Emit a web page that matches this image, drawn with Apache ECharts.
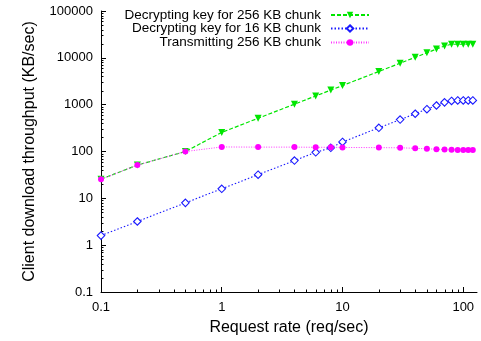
<!DOCTYPE html>
<html>
<head>
<meta charset="utf-8">
<script src="https://cdn.jsdelivr.net/npm/echarts@6/dist/echarts.min.js"></script>
<style>html,body{margin:0;padding:0;background:#fff}#c{width:481px;height:341px}</style>
</head>
<body>
<div id="c"></div>
<script>
// ---- data ----
var rates = [0.1, 0.2, 0.5, 1, 2, 4, 6, 8, 10, 20, 30, 40, 50, 60, 70, 80, 90, 100, 110, 120];
var decrypt256 = [25.6, 51.2, 100, 256, 512, 1024, 1536, 2048, 2560, 5120, 7680, 10240, 12800, 15360, 17920, 19500, 19500, 19500, 19500, 19500];
var decrypt16 = [1.6, 3.2, 8, 16, 32, 64, 96, 120, 160, 320, 480, 640, 800, 960, 1120, 1200, 1230, 1230, 1230, 1230];
var transmit256 = [25.6, 51.2, 100, 125, 124, 124, 123, 123, 122, 121, 120, 117, 114, 112, 110, 109, 108, 107, 107, 107];
var seriesNames = ['Decrypting key for 256 KB chunk', 'Decrypting key for 16 KB chunk', 'Transmitting 256 KB chunk'];
var xTickDecades = [0.1, 1, 10, 100];
var yTickDecades = [0.1, 1, 10, 100, 1000, 10000, 100000];

function pairs(xs, ys) { return xs.map(function (x, i) { return [x, ys[i]]; }); }

var FONT = 'Liberation Sans, Arial, Helvetica, sans-serif';
var chart = echarts.init(document.getElementById('c'), null, {renderer: 'canvas'});

function fmt(v) { return String(+(+v).toPrecision(6)); }

var legendCommon = {
  orient: 'horizontal', align: 'right', right: 111, padding: 0,
  itemWidth: 38, itemHeight: 8,
  textStyle: {fontFamily: FONT, fontSize: 13.5, color: '#000', padding: [0, 5, 0, 0]},
  selectedMode: false
};

var option = {
  animation: false,
  backgroundColor: '#fff',
  grid: {left: 101, right: 4, top: 11, bottom: 46},
  legend: [
    Object.assign({}, legendCommon, {data: [seriesNames[0]], top: 8}),
    Object.assign({}, legendCommon, {data: [seriesNames[1]], top: 21.5}),
    Object.assign({}, legendCommon, {data: [seriesNames[2]], top: 35.5})
  ],
  xAxis: {
    type: 'log', logBase: 10, min: 0.1, max: 130,
    name: 'Request rate (req/sec)', nameLocation: 'middle', nameGap: 28,
    nameTextStyle: {fontFamily: FONT, fontSize: 16, color: '#000'},
    axisLine: {lineStyle: {color: '#000', width: 1}},
    axisTick: {inside: true, length: 5, lineStyle: {color: '#000'}},
    axisLabel: {fontFamily: FONT, fontSize: 13, color: '#000', margin: 9, showMaxLabel: false, formatter: fmt},
    splitLine: {show: false}
  },
  yAxis: {
    type: 'log', logBase: 10, min: 0.1, max: 100000,
    name: 'Client download throughput (KB/sec)', nameLocation: 'middle', nameGap: 63,
    nameTextStyle: {fontFamily: FONT, fontSize: 16, color: '#000'},
    axisLine: {show: true, lineStyle: {color: '#000', width: 1}},
    axisTick: {show: true, inside: true, length: 5, lineStyle: {color: '#000'}},
    axisLabel: {fontFamily: FONT, fontSize: 13, color: '#000', margin: 8, formatter: fmt},
    splitLine: {show: false}
  },
  series: [
    {
      name: seriesNames[0], type: 'line', data: pairs(rates, decrypt256),
      symbol: 'triangle', symbolRotate: 180, symbolSize: 7,
      itemStyle: {color: '#00e600'},
      lineStyle: {color: '#00e600', width: 1.2, type: [4, 2]},
      z: 2
    },
    {
      name: seriesNames[1], type: 'line', data: pairs(rates, decrypt16),
      symbol: 'diamond', symbolSize: 7.5,
      itemStyle: {color: '#ffffff', borderColor: '#1a1aff', borderWidth: 1.1},
      lineStyle: {color: '#1a1aff', width: 1.1, type: [1.5, 2]},
      z: 3
    },
    {
      name: seriesNames[2], type: 'line', data: pairs(rates, transmit256),
      symbol: 'circle', symbolSize: 6,
      itemStyle: {color: '#ff00ff'},
      lineStyle: {color: '#ff33ff', width: 1, type: [1, 1.5]},
      z: 4
    }
  ]
};
chart.setOption(option);

// minor ticks (log 2..9 within each decade), positioned through the axes' own scales
function minorValues(decades, max) {
  var out = [];
  decades.forEach(function (d) {
    for (var m = 2; m <= 9; m++) { var v = d * m; if (v < max) out.push(v); }
  });
  return out;
}
var els = [];
var y0 = chart.convertToPixel({yAxisIndex: 0}, 0.1);
var x0 = chart.convertToPixel({xAxisIndex: 0}, 0.1);
minorValues(xTickDecades, 130).forEach(function (v) {
  var px = Math.round(chart.convertToPixel({xAxisIndex: 0}, v)) + 0.5;
  els.push({type: 'line', shape: {x1: px, y1: y0, x2: px, y2: y0 - 2.5}, style: {stroke: '#000', lineWidth: 1}, silent: true});
});
minorValues(yTickDecades.slice(0, -1), 100000).forEach(function (v) {
  var py = Math.round(chart.convertToPixel({yAxisIndex: 0}, v)) + 0.5;
  els.push({type: 'line', shape: {x1: x0, y1: py, x2: x0 + 2.5, y2: py}, style: {stroke: '#000', lineWidth: 1}, silent: true});
});
chart.setOption({graphic: {elements: els}});
</script>
</body>
</html>
